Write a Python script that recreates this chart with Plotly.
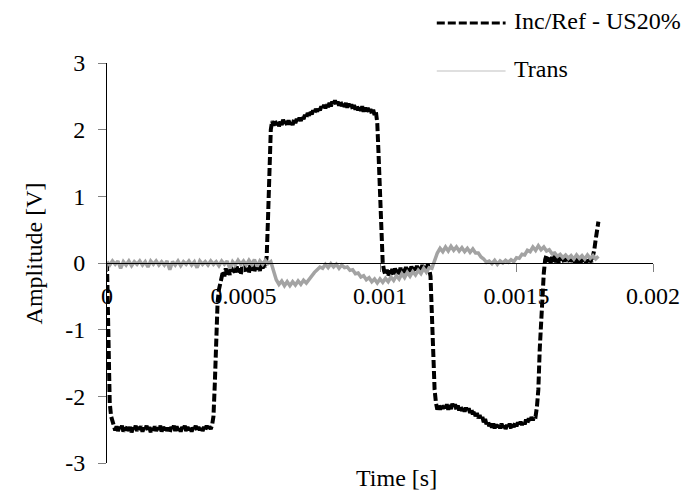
import plotly.graph_objects as go

# sampling steps of the two records (s)
dt_inc = 5e-6
dt_trans = 1e-5

inc_ref = [
    0.0, -1.3, -2.1, -2.3, -2.38, -2.44, -2.51, -2.45, -2.52, -2.46,
    -2.50, -2.44, -2.53, -2.47, -2.51, -2.45, -2.52, -2.46, -2.54, -2.47,
    -2.51, -2.44, -2.52, -2.46, -2.50, -2.45, -2.53, -2.47, -2.51, -2.44,
    -2.52, -2.46, -2.54, -2.48, -2.51, -2.45, -2.52, -2.47, -2.50, -2.44,
    -2.53, -2.46, -2.51, -2.45, -2.52, -2.47, -2.54, -2.46, -2.50, -2.44,
    -2.52, -2.45, -2.51, -2.47, -2.53, -2.46, -2.50, -2.44, -2.52, -2.46,
    -2.51, -2.45, -2.53, -2.47, -2.50, -2.44, -2.52, -2.46, -2.51, -2.45,
    -2.52, -2.46, -2.50, -2.44, -2.51, -2.45, -2.49, -2.43, -2.3, -1.8,
    -1.1, -0.6, -0.4, -0.28, -0.22, -0.12, -0.2, -0.08, -0.17, -0.1,
    -0.18, -0.06, -0.15, -0.09, -0.16, -0.05, -0.14, -0.08, -0.17, -0.06,
    -0.13, -0.04, -0.12, -0.07, -0.15, -0.03, -0.11, -0.06, -0.13, -0.02,
    -0.1, -0.04, -0.12, -0.01, -0.08, -0.03, -0.06, 0.1, 0.7, 1.5,
    2.0, 2.13, 2.06, 2.14, 2.07, 2.13, 2.05, 2.12, 2.07, 2.15,
    2.08, 2.13, 2.06, 2.14, 2.08, 2.12, 2.07, 2.15, 2.1, 2.16,
    2.11, 2.18, 2.13, 2.2, 2.16, 2.22, 2.18, 2.25, 2.21, 2.27,
    2.23, 2.29, 2.25, 2.31, 2.27, 2.33, 2.29, 2.35, 2.31, 2.37,
    2.32, 2.38, 2.34, 2.4, 2.35, 2.42, 2.36, 2.44, 2.37, 2.42,
    2.36, 2.43, 2.35, 2.41, 2.34, 2.4, 2.33, 2.39, 2.32, 2.38,
    2.31, 2.37, 2.3, 2.36, 2.29, 2.35, 2.28, 2.35, 2.27, 2.33,
    2.26, 2.33, 2.25, 2.31, 2.24, 2.3, 2.22, 2.27, 2.1, 1.6,
    1.0, 0.4, 0.0, -0.12, -0.18, -0.1, -0.2, -0.11, -0.18, -0.09,
    -0.17, -0.08, -0.16, -0.1, -0.18, -0.07, -0.15, -0.09, -0.16, -0.06,
    -0.14, -0.08, -0.15, -0.05, -0.13, -0.07, -0.14, -0.04, -0.12, -0.06,
    -0.13, -0.03, -0.1, -0.05, -0.12, -0.02, -0.08, -0.2, -0.8, -1.5,
    -1.9, -2.1, -2.2, -2.13, -2.2, -2.12, -2.19, -2.11, -2.18, -2.12,
    -2.2, -2.13, -2.19, -2.11, -2.17, -2.12, -2.2, -2.14, -2.21, -2.15,
    -2.22, -2.16, -2.23, -2.17, -2.22, -2.18, -2.25, -2.2, -2.27, -2.22,
    -2.3, -2.25, -2.33, -2.28, -2.36, -2.31, -2.39, -2.34, -2.42, -2.37,
    -2.45, -2.39, -2.47, -2.41, -2.48, -2.42, -2.49, -2.43, -2.48, -2.41,
    -2.47, -2.42, -2.49, -2.43, -2.47, -2.41, -2.48, -2.42, -2.46, -2.4,
    -2.45, -2.39, -2.44, -2.38, -2.43, -2.37, -2.42, -2.35, -2.4, -2.33,
    -2.38, -2.31, -2.36, -2.29, -2.3, -2.15, -1.9, -1.3, -0.8, -0.4,
    -0.15, 0.05, 0.12, 0.02, 0.1, 0.0, 0.09, 0.02, 0.11, 0.01,
    0.08, 0.0, 0.1, 0.02, 0.09, -0.01, 0.08, 0.03, 0.1, 0.0,
    0.07, 0.02, 0.09, -0.01, 0.08, 0.01, 0.07, 0.0, 0.09, 0.02,
    0.08, 0.0, 0.07, 0.02, 0.06, 0.01, 0.1, 0.2, 0.35, 0.5,
    0.62,
]

trans = [
    0.02, -0.03, 0.03, -0.02, 0.03, -0.08, 0.02, -0.03, 0.03, -0.04,
    0.02, -0.02, 0.03, -0.03, 0.02, -0.06, 0.03, -0.02, 0.03, -0.03,
    0.02, -0.03, 0.03, -0.1, 0.02, -0.03, 0.03, -0.04, 0.02, -0.02,
    0.03, -0.03, 0.02, -0.07, 0.03, -0.02, 0.02, -0.03, 0.03, -0.02,
    0.02, -0.04, 0.03, -0.02, 0.03, -0.08, 0.02, -0.03, 0.04, -0.02,
    0.03, -0.03, 0.04, -0.02, 0.05, -0.05, 0.03, -0.02, 0.04, -0.01,
    0.02, -0.12, -0.25, -0.32, -0.27, -0.34, -0.28, -0.34, -0.28, -0.33,
    -0.27, -0.32, -0.26, -0.3, -0.24, -0.2, -0.14, -0.1, -0.06, -0.08,
    -0.02, -0.07, -0.01, -0.06, -0.02, -0.08, -0.03, -0.07, -0.06, -0.11,
    -0.1, -0.16, -0.15, -0.21, -0.19, -0.25, -0.22, -0.28, -0.24, -0.3,
    -0.24, -0.29, -0.23, -0.28, -0.21, -0.26, -0.19, -0.24, -0.16, -0.22,
    -0.14, -0.2, -0.13, -0.18, -0.11, -0.16, -0.08, -0.14, -0.07, -0.08,
    0.05, 0.15, 0.22, 0.17, 0.24, 0.18, 0.25, 0.19, 0.24, 0.18,
    0.23, 0.17, 0.22, 0.16, 0.21, 0.15, 0.15, 0.09, 0.06, 0.01,
    0.03, -0.01, 0.04, -0.02, 0.03, 0.0, 0.04, 0.01, 0.05, 0.02,
    0.08, 0.07, 0.13, 0.12, 0.19, 0.17, 0.24, 0.19, 0.26, 0.2,
    0.24, 0.18, 0.2, 0.14, 0.15, 0.1, 0.13, 0.08, 0.12, 0.07,
    0.11, 0.06, 0.12, 0.07, 0.11, 0.06, 0.12, 0.07, 0.11, 0.06,
    0.1,
]

series_names = ["Inc/Ref - US20%", "Trans"]
x_ticks = [0, 0.0005, 0.001, 0.0015, 0.002]
x_tick_labels = ["0", "0.0005", "0.001", "0.0015", "0.002"]
y_ticks = [-3, -2, -1, 0, 1, 2, 3]
y_tick_labels = ["-3", "-2", "-1", "0", "1", "2", "3"]

FONT = "Liberation Serif"
FS = 24
INC_COLOR = "#000000"
TRANS_COLOR = "#a3a3a3"
INC_DASH = "8px,3px"

fig = go.Figure()
fig.add_trace(go.Scatter(
    y=inc_ref, x0=0, dx=dt_inc, mode="lines", name=series_names[0],
    line=dict(color=INC_COLOR, width=4, dash=INC_DASH), showlegend=False,
))
fig.add_trace(go.Scatter(
    y=trans, x0=0, dx=dt_trans, mode="lines", name=series_names[1],
    line=dict(color=TRANS_COLOR, width=3.5), showlegend=False,
))

# manual legend (swatches in paper coordinates)
legend_rows = [
    (series_names[0], 1.10, dict(color=INC_COLOR, width=3, dash=INC_DASH)),
    (series_names[1], 0.98, dict(color="#c0c0c0", width=1.2)),
]
for name, ypos, ln in legend_rows:
    fig.add_shape(type="line", xref="paper", yref="paper",
                  x0=0.604, x1=0.730, y0=ypos, y1=ypos, line=ln)
    fig.add_annotation(text=name, xref="paper", yref="paper", x=0.742, y=ypos + 0.005,
                       xanchor="left", yanchor="middle", showarrow=False,
                       font=dict(family=FONT, size=FS, color="black"))

fig.add_annotation(text="Amplitude [V]", xref="paper", yref="paper", x=-0.133, y=0.525,
                   textangle=-90, showarrow=False, xanchor="center", yanchor="middle",
                   font=dict(family=FONT, size=FS, color="black"))
fig.add_annotation(text="Time [s]", xref="paper", yref="paper", x=0.53, y=-0.037,
                   showarrow=False, xanchor="center", yanchor="middle",
                   font=dict(family=FONT, size=FS, color="black"))

fig.update_layout(
    width=692, height=491,
    margin=dict(l=107, r=29, t=63, b=28),
    plot_bgcolor="white", paper_bgcolor="white",
    font=dict(family=FONT, size=FS, color="black"),
    showlegend=False,
    xaxis=dict(
        range=[0, 0.002], tickvals=x_ticks, ticktext=x_tick_labels,
        anchor="free", position=0.5, showgrid=False, zeroline=False,
        showline=True, linecolor="black", linewidth=1,
        ticks="outside", ticklen=8, tickcolor="#808080",
        ticklabelstandoff=3,
        tickfont=dict(family=FONT, size=FS, color="black"),
    ),
    yaxis=dict(
        range=[-3, 3], tickvals=y_ticks, ticktext=y_tick_labels,
        showgrid=False, zeroline=False,
        showline=True, linecolor="black", linewidth=1,
        ticks="outside", ticklen=8, tickcolor="#808080",
        ticklabelstandoff=8,
        tickfont=dict(family=FONT, size=FS, color="black"),
    ),
)

fig.write_html("out.html")
